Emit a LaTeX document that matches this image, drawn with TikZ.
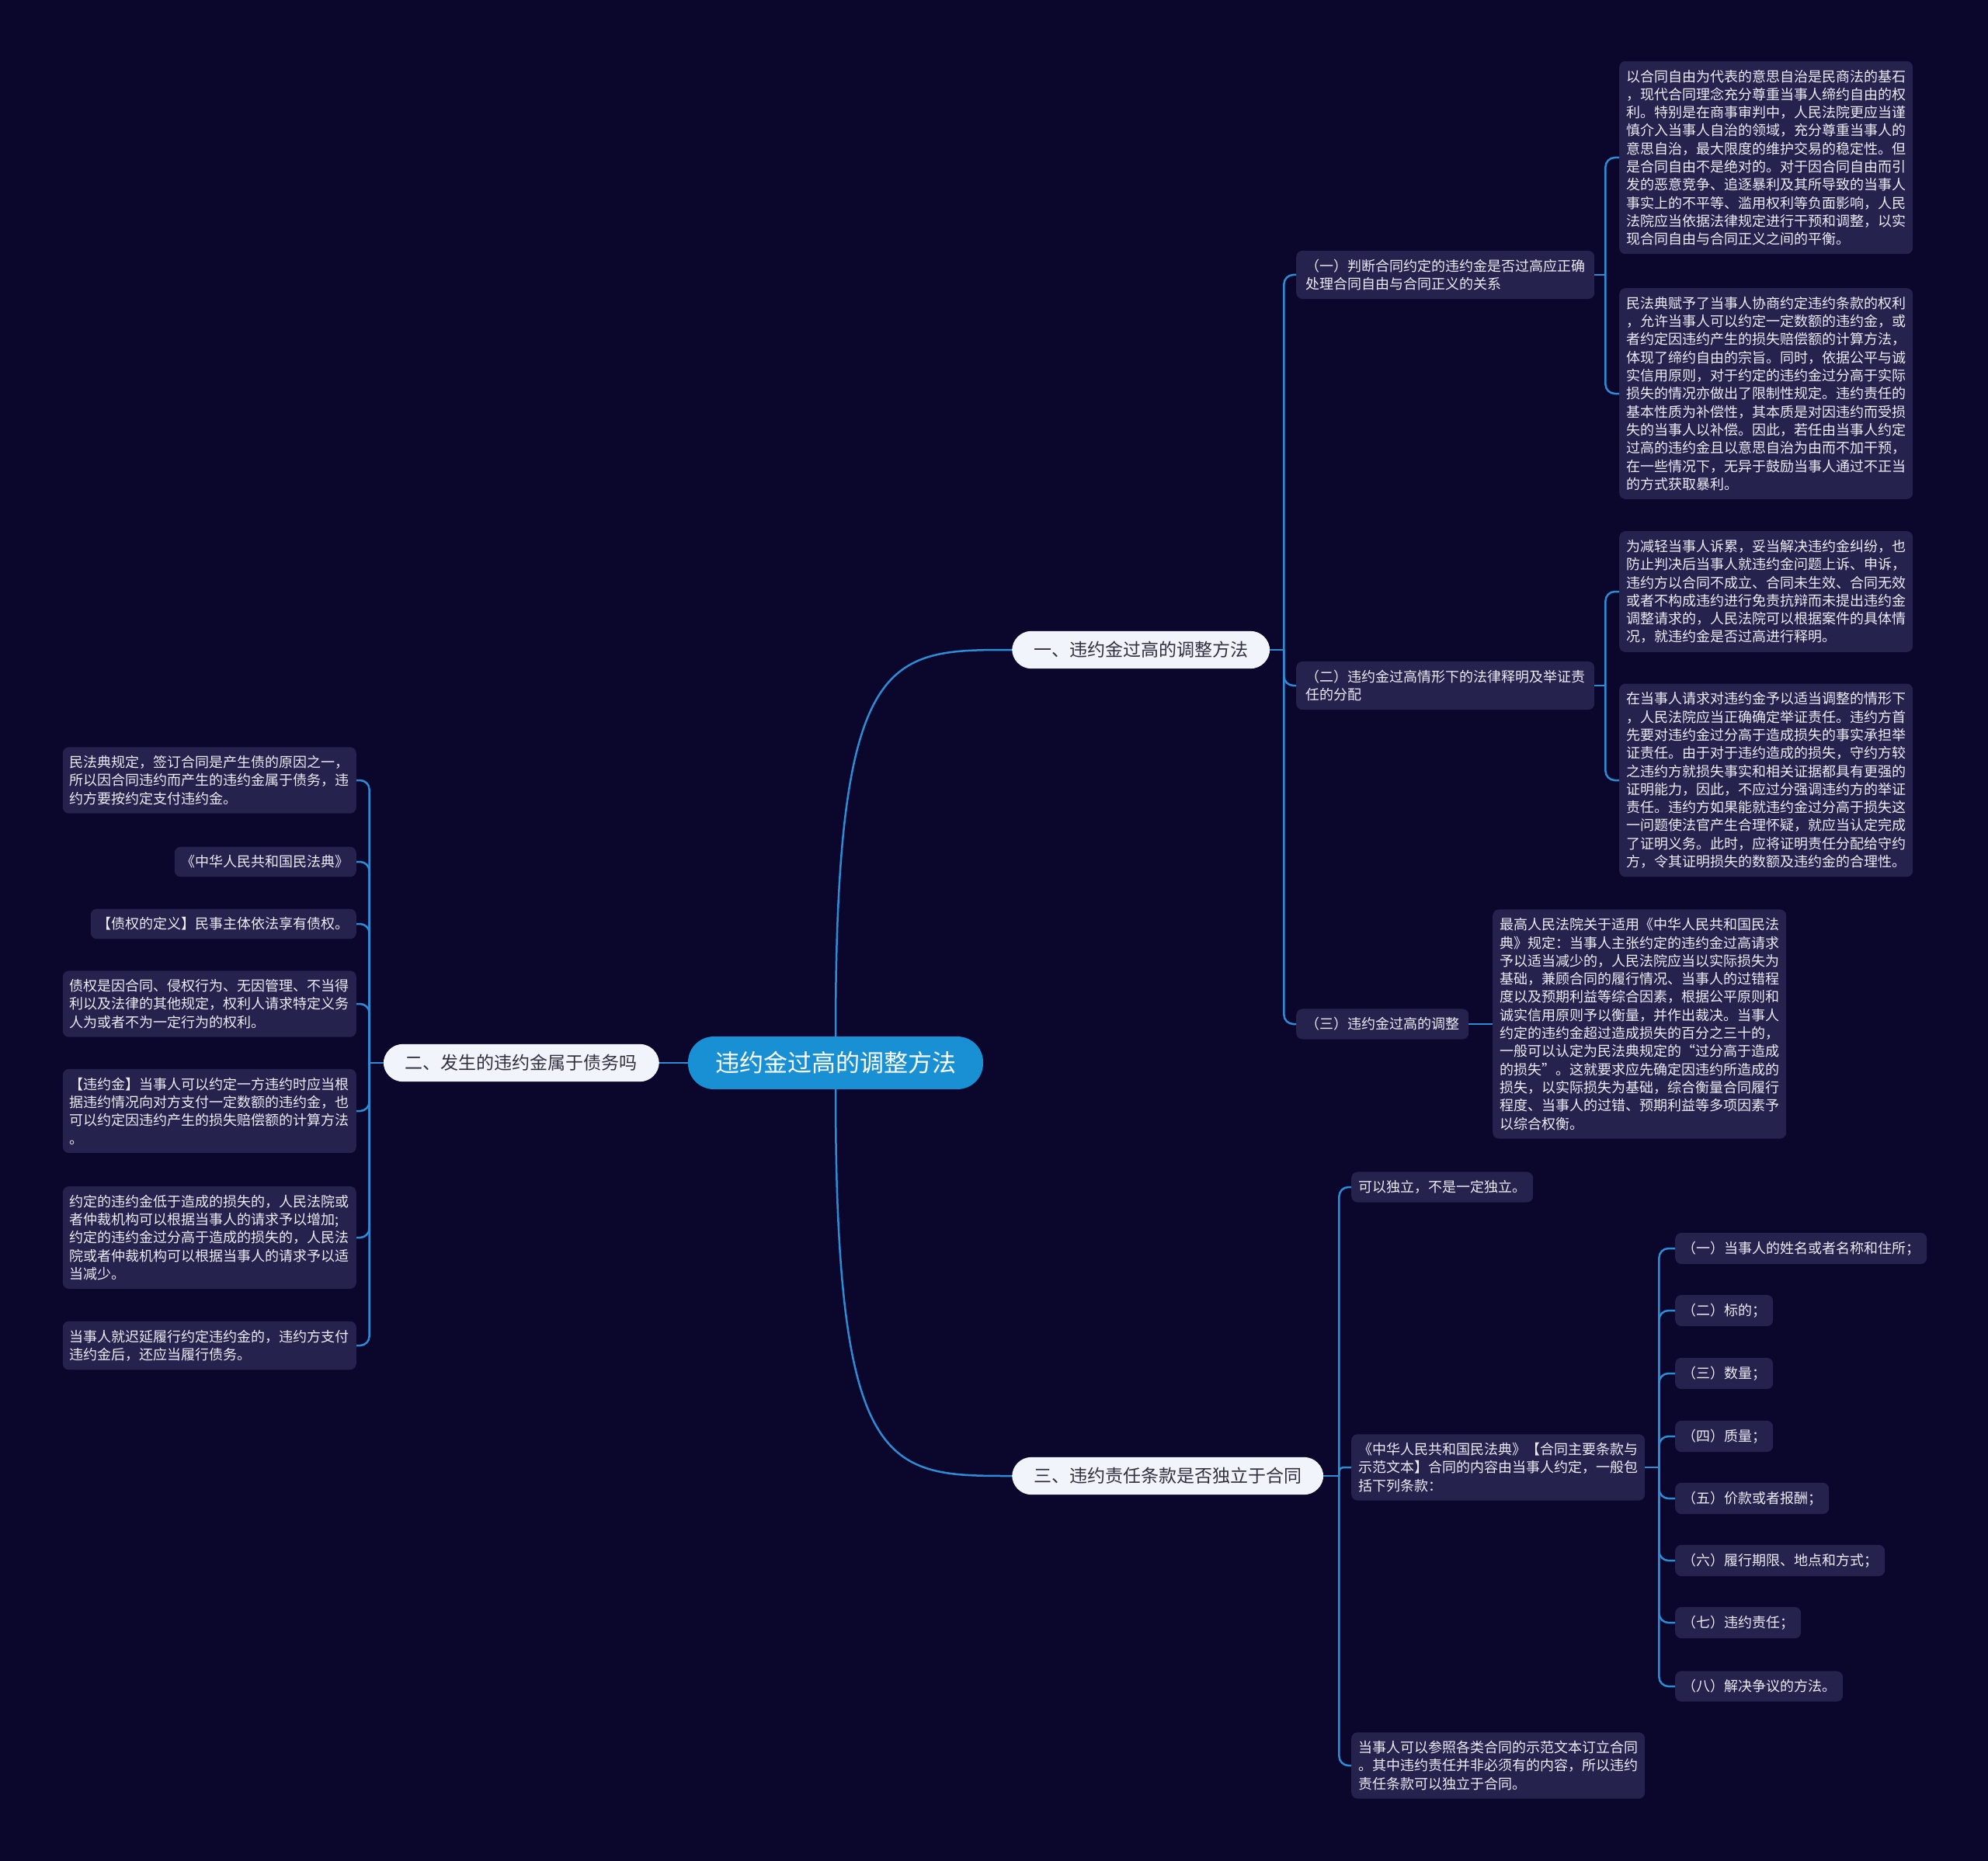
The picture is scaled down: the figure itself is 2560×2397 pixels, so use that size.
\documentclass[tikz,border=0pt]{standalone}
\usepackage{fontspec}
\setmainfont{Noto Sans CJK SC}

\definecolor{bgnavy}{RGB}{10,6,44}
\definecolor{boxfill}{RGB}{38,34,78}
\definecolor{linkblue}{RGB}{45,140,212}
\definecolor{rootblue}{RGB}{26,144,212}
\definecolor{pillfill}{RGB}{242,244,251}
\definecolor{pilltext}{RGB}{48,48,64}
\definecolor{leaftext}{RGB}{236,236,244}

\tikzset{
  leaf/.style={fill=boxfill, text=leaftext, rounded corners=8pt, align=left,
    inner xsep=9pt, inner ysep=11pt, font=\fontsize{18}{23.3}\selectfont},
  sub/.style={leaf, inner xsep=12pt},
  pill/.style={fill=pillfill, text=pilltext, rounded corners=25pt,
    inner xsep=28pt, inner ysep=13.5pt, font=\fontsize{23}{28}\selectfont},
  rootnode/.style={fill=rootblue, text=white, rounded corners=33pt,
    inner xsep=35pt, inner ysep=19.5pt, font=\fontsize{31}{36}\selectfont},
  link/.style={draw=linkblue, line width=2.5pt},
  fork/.style={link, rounded corners=12pt},
}

\begin{document}
\begin{tikzpicture}[x=1pt, y=-1pt]
\useasboundingbox (0,0) rectangle (2560,2397);
\fill[bgnavy] (0,0) rectangle (2560,2397);

% centre and main branches
\node[rootnode] (root) at (1076,1369) {违约金过高的调整方法};
\node[pill, anchor=west] (b1) at (1303,837) {一、违约金过高的调整方法};
\node[pill, anchor=east] (b2) at (849,1369) {二、发生的违约金属于债务吗};
\node[pill, anchor=west] (b3) at (1303,1901) {三、违约责任条款是否独立于合同};

\draw[link] (root.west) -- (b2.east);
\draw[link] (root.north) .. controls (1076,837) and (1143,837) .. (b1.west);
\draw[link] (root.south) .. controls (1076,1901) and (1143,1901) .. (b3.west);

% branch one
\node[sub, anchor=west] (s1) at (1669,354) {（一）判断合同约定的违约金是否过高应正确\\处理合同自由与合同正义的关系};
\node[sub, anchor=west] (s2) at (1669,883) {（二）违约金过高情形下的法律释明及举证责\\任的分配};
\node[sub, anchor=west] (s3) at (1669,1319) {（三）违约金过高的调整};

\node[leaf, anchor=west] (s1a) at (2085,203) {以合同自由为代表的意思自治是民商法的基石\\，现代合同理念充分尊重当事人缔约自由的权\\利。特别是在商事审判中，人民法院更应当谨\\慎介入当事人自治的领域，充分尊重当事人的\\意思自治，最大限度的维护交易的稳定性。但\\是合同自由不是绝对的。对于因合同自由而引\\发的恶意竞争、追逐暴利及其所导致的当事人\\事实上的不平等、滥用权利等负面影响，人民\\法院应当依据法律规定进行干预和调整，以实\\现合同自由与合同正义之间的平衡。};
\node[leaf, anchor=west] (s1b) at (2085,507) {民法典赋予了当事人协商约定违约条款的权利\\，允许当事人可以约定一定数额的违约金，或\\者约定因违约产生的损失赔偿额的计算方法，\\体现了缔约自由的宗旨。同时，依据公平与诚\\实信用原则，对于约定的违约金过分高于实际\\损失的情况亦做出了限制性规定。违约责任的\\基本性质为补偿性，其本质是对因违约而受损\\失的当事人以补偿。因此，若任由当事人约定\\过高的违约金且以意思自治为由而不加干预，\\在一些情况下，无异于鼓励当事人通过不正当\\的方式获取暴利。};
\node[leaf, anchor=west] (s2a) at (2085,762) {为减轻当事人诉累，妥当解决违约金纠纷，也\\防止判决后当事人就违约金问题上诉、申诉，\\违约方以合同不成立、合同未生效、合同无效\\或者不构成违约进行免责抗辩而未提出违约金\\调整请求的，人民法院可以根据案件的具体情\\况，就违约金是否过高进行释明。};
\node[leaf, anchor=west] (s2b) at (2085,1005) {在当事人请求对违约金予以适当调整的情形下\\，人民法院应当正确确定举证责任。违约方首\\先要对违约金过分高于造成损失的事实承担举\\证责任。由于对于违约造成的损失，守约方较\\之违约方就损失事实和相关证据都具有更强的\\证明能力，因此，不应过分强调违约方的举证\\责任。违约方如果能就违约金过分高于损失这\\一问题使法官产生合理怀疑，就应当认定完成\\了证明义务。此时，应将证明责任分配给守约\\方，令其证明损失的数额及违约金的合理性。};
\node[leaf, anchor=west] (s3a) at (1922,1319) {最高人民法院关于适用《中华人民共和国民法\\典》规定：当事人主张约定的违约金过高请求\\予以适当减少的，人民法院应当以实际损失为\\基础，兼顾合同的履行情况、当事人的过错程\\度以及预期利益等综合因素，根据公平原则和\\诚实信用原则予以衡量，并作出裁决。当事人\\约定的违约金超过造成损失的百分之三十的，\\一般可以认定为民法典规定的“过分高于造成\\的损失”。这就要求应先确定因违约所造成的\\损失，以实际损失为基础，综合衡量合同履行\\程度、当事人的过错、预期利益等多项因素予\\以综合权衡。};

\draw[link] (b1.east) -- ++(18,0) coordinate (j1);
\foreach \n in {s1,s2,s3} \draw[fork] (j1) |- (\n.west);
\draw[link] (s1.east) -- ++(14,0) coordinate (j11);
\foreach \n in {s1a,s1b} \draw[fork] (j11) |- (\n.west);
\draw[link] (s2.east) -- ++(14,0) coordinate (j12);
\foreach \n in {s2a,s2b} \draw[fork] (j12) |- (\n.west);
\draw[link] (s3.east) -- (s3a.west);

% branch two
\node[leaf, anchor=east] (l1) at (459,1005) {民法典规定，签订合同是产生债的原因之一，\\所以因合同违约而产生的违约金属于债务，违\\约方要按约定支付违约金。};
\node[leaf, anchor=east] (l2) at (459,1110) {《中华人民共和国民法典》};
\node[leaf, anchor=east] (l3) at (459,1190) {【债权的定义】民事主体依法享有债权。};
\node[leaf, anchor=east] (l4) at (459,1293) {债权是因合同、侵权行为、无因管理、不当得\\利以及法律的其他规定，权利人请求特定义务\\人为或者不为一定行为的权利。};
\node[leaf, anchor=east] (l5) at (459,1431) {【违约金】当事人可以约定一方违约时应当根\\据违约情况向对方支付一定数额的违约金，也\\可以约定因违约产生的损失赔偿额的计算方法\\。};
\node[leaf, anchor=east] (l6) at (459,1594) {约定的违约金低于造成的损失的，人民法院或\\者仲裁机构可以根据当事人的请求予以增加;\\约定的违约金过分高于造成的损失的，人民法\\院或者仲裁机构可以根据当事人的请求予以适\\当减少。};
\node[leaf, anchor=east] (l7) at (459,1733) {当事人就迟延履行约定违约金的，违约方支付\\违约金后，还应当履行债务。};

\draw[link] (b2.west) -- ++(-18,0) coordinate (j2);
\foreach \n in {l1,l2,l3,l4,l5,l6,l7} \draw[fork] (j2) |- (\n.east);

% branch three
\node[leaf, anchor=west] (t1) at (1740,1529) {可以独立，不是一定独立。};
\node[leaf, anchor=west] (t2) at (1740,1890) {《中华人民共和国民法典》【合同主要条款与\\示范文本】合同的内容由当事人约定，一般包\\括下列条款：};
\node[leaf, anchor=west] (t3) at (1740,2274) {当事人可以参照各类合同的示范文本订立合同\\。其中违约责任并非必须有的内容，所以违约\\责任条款可以独立于合同。};

\draw[link] (b3.east) -- ++(20,0) coordinate (j3);
\draw[fork] (j3) |- (t1.west);
\draw[link, rounded corners=5pt] (j3) |- (t2.west);
\draw[fork] (j3) |- (t3.west);

\draw[link] (t2.east) -- ++(18,0) coordinate (j4);
\foreach \y/\txt [count=\k] in {1608/（一）当事人的姓名或者名称和住所；, 1688/（二）标的；,
    1769/（三）数量；, 1850/（四）质量；, 1930/（五）价款或者报酬；,
    2010/（六）履行期限、地点和方式；, 2090/（七）违约责任；, 2172/（八）解决争议的方法。}
{
  \node[leaf, anchor=west] (c\k) at (2157,\y) {\txt};
  \draw[fork] (j4) |- (c\k.west);
}

\end{tikzpicture}
\end{document}
